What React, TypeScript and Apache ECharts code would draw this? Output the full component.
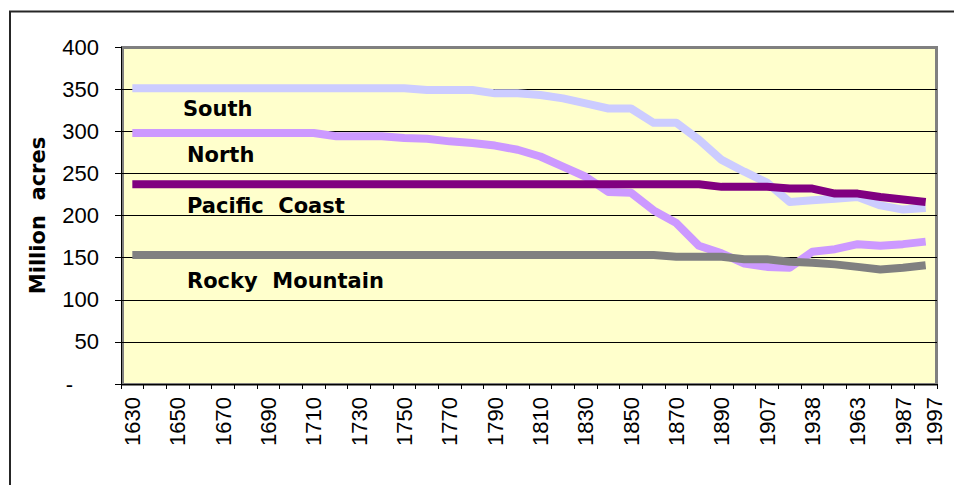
import React, { useEffect, useRef } from 'react';
import * as echarts from 'echarts';

const years = [
  '1630', '1640', '1650', '1660', '1670', '1680', '1690', '1700', '1710', '1720',
  '1730', '1740', '1750', '1760', '1770', '1780', '1790', '1800', '1810', '1820',
  '1830', '1840', '1850', '1860', '1870', '1880', '1890', '1900', '1907', '1920',
  '1938', '1953', '1963', '1977', '1987', '1997',
];

const south = [
  351, 351, 351, 351, 351, 351, 351, 351, 351, 351, 351, 351, 351,
  349, 349, 349, 345, 345, 343, 339, 333, 327, 327, 310, 310, 290,
  266, 252, 239, 216, 218, 220, 222, 212, 207, 209,
];

const north = [
  298, 298, 298, 298, 298, 298, 298, 298, 298,
  294, 294, 294, 292, 291, 288, 286, 283, 278, 270, 258, 246, 228,
  227, 206, 191, 164, 155, 143, 139, 138, 157, 160, 166, 164, 166, 169,
];

const pacific = [
  237, 237, 237, 237, 237, 237, 237, 237, 237, 237, 237, 237, 237,
  237, 237, 237, 237, 237, 237, 237, 237, 237, 237, 237, 237, 237,
  234, 234, 234, 232, 232, 226, 226, 222, 219, 216,
];

const rocky = [
  153, 153, 153, 153, 153, 153, 153, 153, 153, 153, 153, 153,
  153, 153, 153, 153, 153, 153, 153, 153, 153, 153, 153, 153,
  151, 151, 151, 148, 148, 145, 144, 142, 139, 136, 138, 141,
];

const seriesNames = ['South', 'North', 'Pacific  Coast', 'Rocky  Mountain'];
const seriesColors = ['#CCCCFF', '#CC99FF', '#800080', '#808080'];
const seriesData = [south, north, pacific, rocky];
const yTicks = { min: 0, max: 400, step: 50 };

export default function App() {
  const ref = useRef<HTMLDivElement>(null);

  useEffect(() => {
    const chart = echarts.init(ref.current!, null, { renderer: 'svg' });
    const labelFont = {
      fontFamily: 'DejaVu Sans',
      fontWeight: 'bold' as const,
      fontSize: 21,
      fill: '#000',
      verticalAlign: 'middle' as const,
      align: 'left' as const,
    };
    chart.setOption({
      animation: false,
      backgroundColor: '#ffffff',
      grid: {
        left: 121,
        right: 17,
        top: 47,
        bottom: 101,
        containLabel: false,
        outerBoundsMode: 'none',
        show: false,
      },
      graphic: [
        {
          type: 'rect',
          z: -1,
          silent: true,
          shape: { x: 10, y: 11.5, width: 2000, height: 2000 },
          style: { fill: 'none', stroke: '#262626', lineWidth: 2 },
        },
        {
          type: 'rect',
          z: -1,
          silent: true,
          shape: { x: 122.5, y: 47.5, width: 814, height: 337 },
          style: { fill: '#FFFFCC', stroke: '#808080', lineWidth: 3 },
        },
        { type: 'text', z: 10, x: 183, y: 109, style: { ...labelFont, text: 'South' } },
        { type: 'text', z: 10, x: 187, y: 155, style: { ...labelFont, text: 'North' } },
        { type: 'text', z: 10, x: 187, y: 206, style: { ...labelFont, text: 'Pacific  Coast' } },
        { type: 'text', z: 10, x: 187, y: 281, style: { ...labelFont, text: 'Rocky  Mountain' } },
      ],
      xAxis: {
        type: 'category',
        data: years,
        boundaryGap: true,
        axisLine: { show: true, lineStyle: { color: '#000', width: 1 } },
        axisTick: { show: true, interval: 0, length: 5, lineStyle: { color: '#000', width: 1 } },
        axisLabel: {
          interval: (i: number) => i % 2 === 0 || i === years.length - 1,
          rotate: 90,
          margin: 13,
          fontFamily: 'Liberation Sans',
          fontSize: 22,
          color: '#000',
          formatter: (v: string, i: number) => (i === years.length - 1 ? '{last|' + v + '}' : v),
          rich: {
            last: {
              fontFamily: 'Liberation Sans',
              fontSize: 22,
              color: '#000',
              padding: [18, 0, 0, 0],
            },
          },
        },
        splitLine: { show: false },
      },
      yAxis: {
        type: 'value',
        min: yTicks.min,
        max: yTicks.max,
        interval: yTicks.step,
        name: 'Million  acres',
        nameLocation: 'middle',
        nameGap: 73,
        nameRotate: 90,
        nameTextStyle: {
          fontFamily: 'DejaVu Sans',
          fontWeight: 'bold',
          fontSize: 21,
          color: '#000',
        },
        axisLine: { show: true, lineStyle: { color: '#000', width: 1 } },
        axisTick: { show: true, length: 6, lineStyle: { color: '#000', width: 1 } },
        axisLabel: {
          margin: 22,
          fontFamily: 'Liberation Sans',
          fontSize: 22,
          color: '#000',
          formatter: (v: number) => (v === 0 ? '{z|-}' : String(v)),
          rich: {
            z: {
              fontFamily: 'Liberation Sans',
              fontSize: 22,
              color: '#000',
              padding: [0, 26, 0, 0],
            },
          },
        },
        splitLine: {
          show: true,
          showMinLine: false,
          showMaxLine: false,
          lineStyle: { color: '#000', width: 1 },
        },
      },
      series: seriesData.map((d, k) => ({
        name: seriesNames[k],
        type: 'line',
        data: d,
        showSymbol: false,
        symbol: 'none',
        silent: true,
        z: 2 + k,
        lineStyle: { color: seriesColors[k], width: 8, cap: 'butt', join: 'round' },
        itemStyle: { color: seriesColors[k] },
      })),
    });
    return () => chart.dispose();
  }, []);

  return (
    <div
      ref={ref}
      style={{ position: 'absolute', left: 0, top: 0, width: 954, height: 485, background: '#fff' }}
    />
  );
}
